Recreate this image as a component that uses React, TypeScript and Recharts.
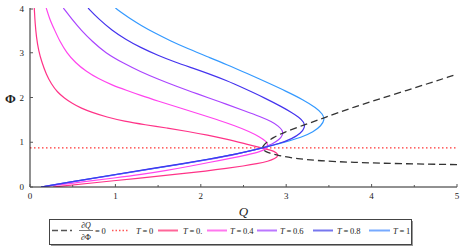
import { LineChart, Line, XAxis, YAxis } from 'recharts'

// each curve is [Q, Phi], ordered along the curve with Phi increasing
const dQdPhiZero: [number, number][] = [
  [5.0, 0.5], [4.35, 0.52], [3.76, 0.55], [3.4, 0.585], [3.13, 0.63], [2.9, 0.705], [2.78, 0.77],
  [2.73, 0.83], [2.72, 0.87], [2.73, 0.92], [2.77, 1.0], [2.85, 1.11], [2.97, 1.22], [3.2, 1.38],
  [3.45, 1.55], [3.76, 1.77], [4.35, 2.12], [5.0, 2.52],
]

const t0: [number, number][] = [[0, 0.873], [5, 0.873]]

const t02: [number, number][] = [
  [0.27, 0], [0.7, 0.085], [1.29, 0.2], [1.7, 0.28], [2.08, 0.36], [2.3, 0.415], [2.5, 0.47],
  [2.66, 0.52], [2.79, 0.575], [2.87, 0.635], [2.91, 0.7], [2.89, 0.77], [2.82, 0.825], [2.72, 0.87],
  [2.5, 0.975], [2.3, 1.07], [2.08, 1.16], [1.85, 1.24], [1.6, 1.32], [1.35, 1.39], [1.1, 1.47],
  [0.9, 1.56], [0.72, 1.67], [0.6, 1.76], [0.5, 1.86], [0.4, 1.99], [0.32, 2.12], [0.25, 2.3],
  [0.19, 2.52], [0.14, 2.78], [0.1, 3.05], [0.075, 3.35], [0.06, 3.65], [0.05, 4.0],
]

const t04: [number, number][] = [
  [0.13, 0], [0.6, 0.11], [1.0, 0.205], [1.3, 0.28], [1.6, 0.37], [1.9, 0.475], [2.1, 0.55],
  [2.35, 0.64], [2.55, 0.72], [2.7, 0.79], [2.77, 0.86], [2.79, 0.94], [2.76, 1.03], [2.69, 1.12],
  [2.57, 1.24], [2.4, 1.37], [2.2, 1.5], [2.0, 1.62], [1.75, 1.77], [1.5, 1.92], [1.29, 2.05],
  [1.13, 2.16], [0.96, 2.28], [0.8, 2.42], [0.66, 2.58], [0.53, 2.78], [0.43, 3.0], [0.35, 3.25],
  [0.29, 3.5], [0.23, 3.75], [0.19, 4.0],
]

const t06: [number, number][] = [
  [0.13, 0], [0.6, 0.15], [1.0, 0.273], [1.4, 0.397], [1.8, 0.517], [2.1, 0.617], [2.4, 0.723],
  [2.72, 0.87], [2.84, 0.96], [2.92, 1.06], [2.96, 1.16], [2.96, 1.26], [2.91, 1.36], [2.83, 1.46],
  [2.7, 1.57], [2.5, 1.71], [2.3, 1.85], [2.08, 2.0], [1.9, 2.12], [1.7, 2.26], [1.5, 2.41],
  [1.29, 2.58], [1.1, 2.76], [0.88, 3.0], [0.73, 3.25], [0.6, 3.5], [0.49, 3.75], [0.39, 4.0],
]

const t08: [number, number][] = [
  [0.13, 0], [0.6, 0.155], [1.0, 0.28], [1.4, 0.405], [1.8, 0.525], [2.1, 0.625], [2.4, 0.73],
  [2.72, 0.87], [2.92, 0.97], [3.07, 1.08], [3.17, 1.2], [3.22, 1.33], [3.21, 1.45], [3.15, 1.56],
  [3.06, 1.67], [2.95, 1.79], [2.76, 1.98], [2.5, 2.21], [2.3, 2.38], [2.08, 2.54], [1.9, 2.66],
  [1.7, 2.79], [1.5, 2.94], [1.29, 3.12], [1.12, 3.3], [0.96, 3.5], [0.8, 3.76], [0.68, 4.0],
]

const t10: [number, number][] = [
  [0.13, 0], [0.6, 0.152], [1.0, 0.277], [1.4, 0.402], [1.8, 0.522], [2.1, 0.622], [2.4, 0.727],
  [2.72, 0.87], [2.98, 1.0], [3.18, 1.11], [3.32, 1.23], [3.41, 1.37], [3.45, 1.5], [3.43, 1.63],
  [3.35, 1.77], [3.2, 1.95], [3.0, 2.14], [2.76, 2.35], [2.55, 2.53], [2.3, 2.74], [2.08, 2.91],
  [1.85, 3.09], [1.65, 3.26], [1.45, 3.45], [1.3, 3.61], [1.2, 3.73], [1.1, 3.86], [1.0, 4.0],
]

const xTicks = [0, 0.5, 1, 1.5, 2, 2.5, 3, 3.5, 4, 4.5, 5]
const yTicks = [0, 0.5, 1, 1.5, 2, 2.5, 3, 3.5, 4]

const serif = "'Liberation Serif', 'DejaVu Serif', serif"

const toRows = (pts: [number, number][]) => pts.map(([q, phi]) => ({ q, phi }))

const curves = [
  { name: 'T = 0.', data: t02, color: '#ff3388' },
  { name: 'T = 0.4', data: t04, color: '#ff44ee' },
  { name: 'T = 0.6', data: t06, color: '#aa44ff' },
  { name: 'T = 1', data: t10, color: '#3399ff' },
  { name: 'T = 0.8', data: t08, color: '#4433ee' },
]

const XTick = (props: any) => {
  const { x, y, payload } = props
  const major = Number.isInteger(payload.value)
  return (
    <g>
      <line x1={x} x2={x} y1={y} y2={y - (major ? 3 : 2)} stroke="#555" />
      {major && (
        <text x={x} y={y + 12} textAnchor="middle" fontSize={9} fontFamily={serif} fill="#222">
          {payload.value}
        </text>
      )}
    </g>
  )
}

const YTick = (props: any) => {
  const { x, y, payload } = props
  const major = Number.isInteger(payload.value)
  return (
    <g>
      <line x1={x} x2={x + (major ? 3 : 2)} y1={y} y2={y} stroke="#555" />
      {major && (
        <text x={x - 6} y={y + 3} textAnchor="end" fontSize={9} fontFamily={serif} fill="#222">
          {payload.value}
        </text>
      )}
    </g>
  )
}

const LegendLabel = ({ x, value }: { x: number; value: string }) => (
  <text x={x} y={233.5} fontSize={8.5} fontFamily={serif} fill="#222">
    <tspan fontStyle="italic">T</tspan>
    <tspan>{'\u2009=\u2009' + value}</tspan>
  </text>
)

export default function App() {
  return (
    <div style={{ position: 'absolute', left: 0, top: 0, width: 463, height: 250 }}>
      <LineChart width={463} height={250} margin={{ top: 8, right: 6, bottom: 43, left: 0 }}>
        <XAxis
          type="number"
          dataKey="q"
          domain={[0, 5]}
          ticks={xTicks}
          allowDataOverflow
          height={20}
          tickSize={0}
          tickMargin={0}
          tick={<XTick />}
          axisLine={{ stroke: '#222' }}
          tickLine={false}
        />
        <YAxis
          type="number"
          dataKey="phi"
          domain={[0, 4]}
          ticks={yTicks}
          allowDataOverflow
          width={30}
          tickSize={0}
          tickMargin={0}
          tick={<YTick />}
          axisLine={{ stroke: '#222' }}
          tickLine={false}
        />
        <Line
          data={toRows(t0)}
          dataKey="phi"
          type="linear"
          stroke="#ff3333"
          strokeWidth={1.2}
          strokeDasharray="1.5 2.5"
          dot={false}
          isAnimationActive={false}
        />
        {curves.map((c) => (
          <Line
            key={c.name}
            data={toRows(c.data)}
            dataKey="phi"
            type="basis"
            stroke={c.color}
            strokeWidth={1.2}
            dot={false}
            isAnimationActive={false}
          />
        ))}
        <Line
          data={toRows(dQdPhiZero)}
          dataKey="phi"
          type="basis"
          stroke="#333"
          strokeWidth={1.3}
          strokeDasharray="7 4"
          dot={false}
          isAnimationActive={false}
        />
      </LineChart>
      <svg
        width={463}
        height={250}
        style={{ position: 'absolute', left: 0, top: 0, pointerEvents: 'none' }}
      >
        <text x={10.5} y={103} textAnchor="middle" fontSize={13} fontWeight="bold" fontFamily={serif} fill="#222">
          Φ
        </text>
        <text x={243.5} y={215.5} textAnchor="middle" fontSize={13} fontStyle="italic" fontFamily={serif} fill="#222">
          Q
        </text>
        <rect x={51} y={221} width={362} height={25} fill="#999" />
        <rect x={49.5} y={219.5} width={362} height={25} fill="#fff" stroke="#444" />
        <line x1={52} x2={72} y1={230.5} y2={230.5} stroke="#555" strokeWidth={1.5} strokeDasharray="6 3" />
        <text x={86} y={228} textAnchor="middle" fontSize={8} fontFamily={serif} fill="#222">
          ∂<tspan fontStyle="italic">Q</tspan>
        </text>
        <line x1={79} x2={93} y1={230.5} y2={230.5} stroke="#222" strokeWidth={0.6} />
        <text x={86} y={239.5} textAnchor="middle" fontSize={8} fontFamily={serif} fill="#222">
          ∂Φ
        </text>
        <text x={95} y={233.5} fontSize={8.5} fontFamily={serif} fill="#222">
          {'=\u20090'}
        </text>
        <line x1={112} x2={128} y1={230.5} y2={230.5} stroke="#ff5555" strokeWidth={1.5} strokeDasharray="1.5 2" />
        <LegendLabel x={136} value="0" />
        <line x1={158} x2={178} y1={230.5} y2={230.5} stroke="#ff6699" strokeWidth={2} />
        <LegendLabel x={183} value="0." />
        <line x1={207} x2={227} y1={230.5} y2={230.5} stroke="#ff77ee" strokeWidth={2} />
        <LegendLabel x={230} value="0.4" />
        <line x1={257} x2={277} y1={230.5} y2={230.5} stroke="#bb77ff" strokeWidth={2} />
        <LegendLabel x={280} value="0.6" />
        <line x1={313} x2={333} y1={230.5} y2={230.5} stroke="#7777ee" strokeWidth={2} />
        <LegendLabel x={337} value="0.8" />
        <line x1={369} x2={390} y1={230.5} y2={230.5} stroke="#77aaff" strokeWidth={2} />
        <LegendLabel x={393} value="1" />
      </svg>
    </div>
  )
}
